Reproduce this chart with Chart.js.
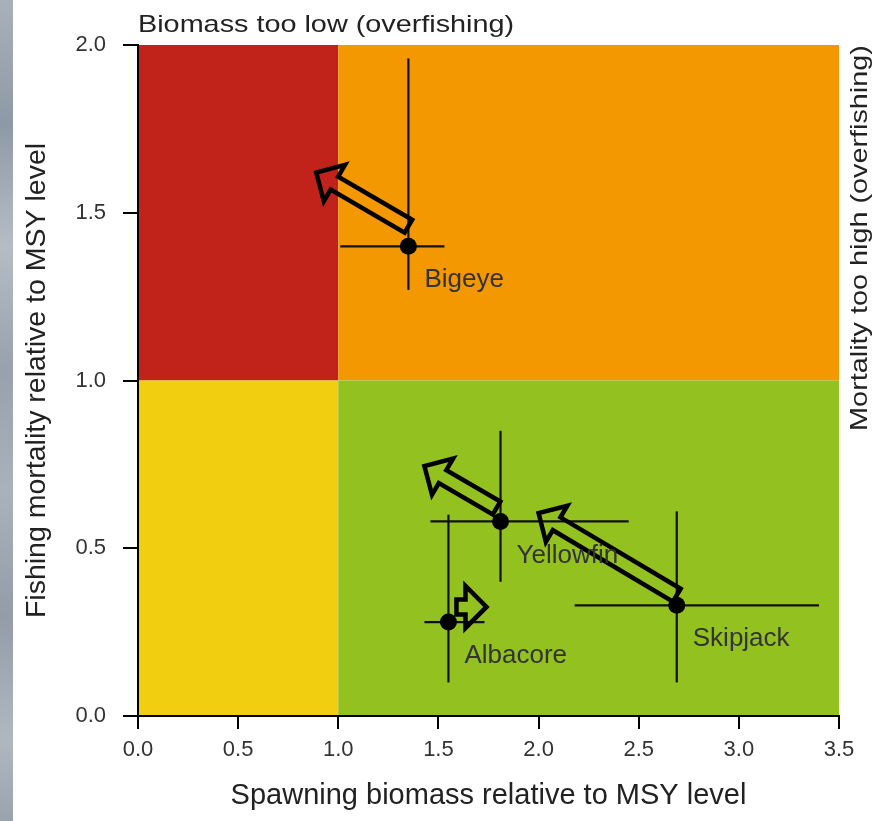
<!DOCTYPE html>
<html><head><meta charset="utf-8">
<script src="https://cdn.jsdelivr.net/npm/chart.js@4/dist/chart.umd.min.js"></script>
<style>
html,body{margin:0;padding:0;background:#fff;}
#wrap{position:relative;width:884px;height:821px;background:#fff;overflow:hidden;}
#strip{position:absolute;left:0;top:0;width:13px;height:821px;
background:linear-gradient(180deg,#a9b0b9 0%,#8f99a5 15%,#b5bcc4 30%,#98a1ac 45%,#aab1ba 60%,#939ca7 75%,#b0b7bf 90%,#9aa3ad 100%);}
canvas{position:absolute;left:0;top:0;}
</style></head><body>
<div id="wrap"><div id="strip"></div><canvas id="c" width="884" height="821"></canvas></div>
<script>
// ---- data ----
const species   = ['Bigeye', 'Yellowfin', 'Albacore', 'Skipjack'];
const biomass   = [1.35, 1.81, 1.55, 2.69];   // x: spawning biomass / MSY
const mortality = [1.40, 0.58, 0.28, 0.33];   // y: fishing mortality / MSY
const biomassLow  = [1.01, 1.46, 1.43, 2.18];
const biomassHigh = [1.53, 2.45, 1.73, 3.40];
const mortLow     = [1.27, 0.40, 0.10, 0.10];
const mortHigh    = [1.96, 0.85, 0.60, 0.61];
// arrows (trend): from -> to
const arrowFromX = [1.35, 1.79, 1.59, 2.69];
const arrowFromY = [1.46, 0.62, 0.325, 0.36];
const arrowToX   = [0.89, 1.43, 1.74, 2.00];
const arrowToY   = [1.62, 0.745, 0.325, 0.605];
// reference levels
const refBiomass = 1.0;
const refMortality = 1.0;
const xTicks = [0, 0.5, 1.0, 1.5, 2.0, 2.5, 3.0, 3.5];
const yTicks = [0, 0.5, 1.0, 1.5, 2.0];
const xTitle = 'Spawning biomass relative to MSY level';
const yTitle = 'Fishing mortality relative to MSY level';
const topTitle = 'Biomass too low (overfishing)';
const rightTitle = 'Mortality too high (overfishing)';

// ---- styles ----
const FONT = '"Liberation Sans", Arial, sans-serif';
const COL = { red:'#C1231B', orange:'#F39800', yellow:'#F2CE10', green:'#93C11F' };

const datasets = [];
datasets.push({
  label:'points',
  data: species.map((s,i)=>({x:biomass[i], y:mortality[i]})),
  pointRadius:8.5, pointBackgroundColor:'#000', pointBorderWidth:0, showLine:false, order:0
});
species.forEach((s,i)=>{
  datasets.push({label:s+' x-range', data:[{x:biomassLow[i],y:mortality[i]},{x:biomassHigh[i],y:mortality[i]}],
    showLine:true, borderColor:'#111', borderWidth:2.2, pointRadius:0, fill:false, order:1});
  datasets.push({label:s+' y-range', data:[{x:biomass[i],y:mortLow[i]},{x:biomass[i],y:mortHigh[i]}],
    showLine:true, borderColor:'#111', borderWidth:2.2, pointRadius:0, fill:false, order:1});
});

const quadrantPlugin = {
  id:'quadrants',
  beforeDraw(chart){
    const {ctx, scales:{x,y}} = chart;
    const x0=x.getPixelForValue(x.min), x1=x.getPixelForValue(refBiomass), x2=x.getPixelForValue(x.max);
    const y0=y.getPixelForValue(y.min), y1=y.getPixelForValue(refMortality), y2=y.getPixelForValue(y.max);
    ctx.save();
    ctx.fillStyle=COL.red;    ctx.fillRect(x0,y2,x1-x0,y1-y2);
    ctx.fillStyle=COL.orange; ctx.fillRect(x1,y2,x2-x1,y1-y2);
    ctx.fillStyle=COL.yellow; ctx.fillRect(x0,y1,x1-x0,y0-y1);
    ctx.fillStyle=COL.green;  ctx.fillRect(x1,y1,x2-x1,y0-y1);
    ctx.restore();
  }
};

const arrowPlugin = {
  id:'arrows',
  afterDatasetsDraw(chart){
    const {ctx, scales:{x,y}} = chart;
    const sw=15, hw=42, hl=21;
    ctx.save();
    ctx.strokeStyle='#000'; ctx.lineWidth=4.5; ctx.lineJoin='miter'; ctx.miterLimit=10;
    for(let i=0;i<arrowFromX.length;i++){
      const ax=x.getPixelForValue(arrowFromX[i]), ay=y.getPixelForValue(arrowFromY[i]);
      const bx=x.getPixelForValue(arrowToX[i]), by=y.getPixelForValue(arrowToY[i]);
      const L=Math.hypot(bx-ax,by-ay); const ux=(bx-ax)/L, uy=(by-ay)/L; const nx=-uy, ny=ux;
      const cx=bx-ux*hl, cy=by-uy*hl;
      const pts=[[ax+nx*sw/2,ay+ny*sw/2],[cx+nx*sw/2,cy+ny*sw/2],[cx+nx*hw/2,cy+ny*hw/2],[bx,by],
                 [cx-nx*hw/2,cy-ny*hw/2],[cx-nx*sw/2,cy-ny*sw/2],[ax-nx*sw/2,ay-ny*sw/2]];
      ctx.beginPath(); ctx.moveTo(pts[0][0],pts[0][1]);
      for(let k=1;k<pts.length;k++) ctx.lineTo(pts[k][0],pts[k][1]);
      ctx.closePath(); ctx.stroke();
    }
    ctx.restore();
  }
};

const labelPlugin = {
  id:'labels',
  afterDatasetsDraw(chart){
    const {ctx, scales:{x,y}} = chart;
    ctx.save();
    ctx.font='26px '+FONT; ctx.fillStyle='#333'; ctx.textAlign='left'; ctx.textBaseline='middle';
    species.forEach((s,i)=>{
      ctx.fillText(s, x.getPixelForValue(biomass[i])+16, y.getPixelForValue(mortality[i])+34);
    });
    ctx.restore();
  },
  afterDraw(chart){
    const {ctx, chartArea} = chart;
    const stretch = 1.2;
    ctx.save();
    ctx.font='24px '+FONT; ctx.fillStyle='#222';
    ctx.textAlign='left'; ctx.textBaseline='alphabetic';
    ctx.save();
    ctx.translate(chartArea.left, 32); ctx.scale(stretch,1);
    ctx.fillText(topTitle, 0, 0);
    ctx.restore();
    ctx.translate(chartArea.right+28, (chartArea.top+chartArea.top+386)/2);
    ctx.rotate(-Math.PI/2); ctx.scale(stretch,1);
    ctx.textAlign='center';
    ctx.fillText(rightTitle, 0, 0);
    ctx.restore();
  }
};

new Chart(document.getElementById('c'), {
  type:'scatter',
  data:{datasets},
  options:{
    responsive:false, animation:false,
    layout:{padding:{top:45,right:45,left:0,bottom:0}},
    plugins:{legend:{display:false}, tooltip:{enabled:false}},
    scales:{
      x:{type:'linear', min:0, max:3.5,
        afterBuildTicks(s){ s.ticks = xTicks.map(v=>({value:v})); },
        afterFit(s){ s.height=105; },
        ticks:{callback:v=>Number(v).toFixed(1), color:'#333', font:{family:FONT,size:22}, padding:8, maxRotation:0},
        grid:{display:true, drawOnChartArea:false, drawTicks:true, tickLength:13, color:'#000', lineWidth:2},
        border:{display:true, color:'#000', width:2},
        title:{display:true, text:xTitle, color:'#222', font:{family:FONT,size:29}, padding:{top:0,bottom:8}}
      },
      y:{type:'linear', min:0, max:2,
        afterBuildTicks(s){ s.ticks = yTicks.map(v=>({value:v})); },
        afterFit(s){ s.width=138; },
        ticks:{callback:v=>Number(v).toFixed(1), color:'#333', font:{family:FONT,size:22}, padding:17},
        grid:{display:true, drawOnChartArea:false, drawTicks:true, tickLength:15, color:'#000', lineWidth:2},
        border:{display:true, color:'#000', width:2},
        title:{display:true, text:yTitle, color:'#222', font:{family:FONT,size:28.5}, padding:{top:20,bottom:0}}
      }
    }
  },
  plugins:[quadrantPlugin, arrowPlugin, labelPlugin]
});
</script>
</body></html>
